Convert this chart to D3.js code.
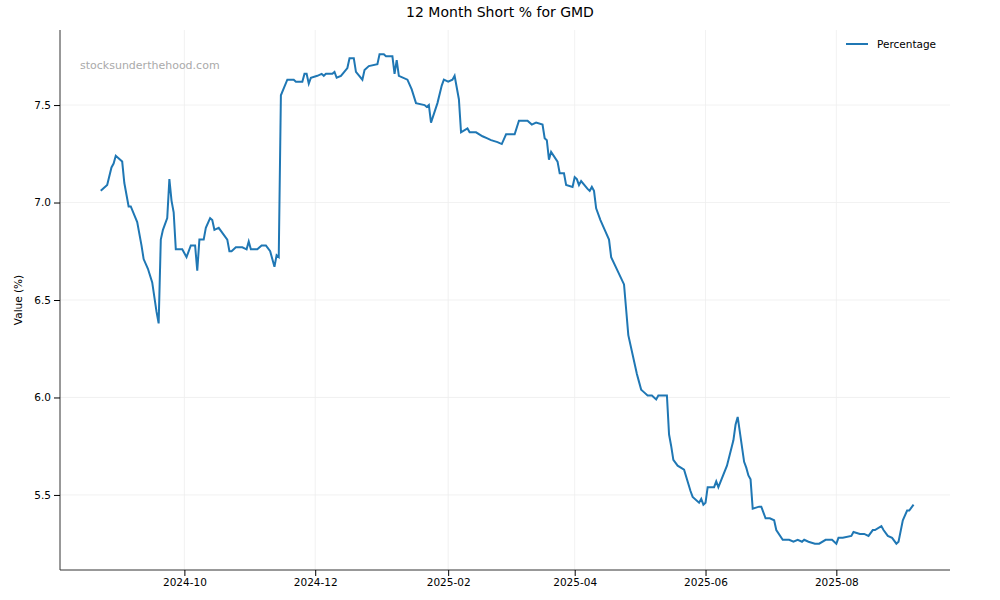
<!DOCTYPE html>
<html>
<head>
<meta charset="utf-8">
<script src="https://cdn.jsdelivr.net/npm/d3@7"></script>
<style>
  body { margin: 0; background: #fff; font-family: "DejaVu Sans", sans-serif; }
</style>
</head>
<body>
<svg id="chart" width="1000" height="600"></svg>
<script>
// short interest readings
const dates = [
  "2024-08-23","2024-08-26","2024-08-28","2024-08-29","2024-08-30","2024-09-02","2024-09-03","2024-09-05","2024-09-06","2024-09-09",
  "2024-09-11","2024-09-12","2024-09-14","2024-09-16","2024-09-18","2024-09-19","2024-09-20","2024-09-21","2024-09-23","2024-09-24",
  "2024-09-25","2024-09-26","2024-09-27","2024-09-30","2024-10-02","2024-10-04","2024-10-06","2024-10-07","2024-10-08","2024-10-10",
  "2024-10-11","2024-10-13","2024-10-14","2024-10-15","2024-10-17","2024-10-21","2024-10-22","2024-10-23","2024-10-25","2024-10-28",
  "2024-10-30","2024-10-31","2024-11-01","2024-11-04","2024-11-06","2024-11-08","2024-11-10","2024-11-12","2024-11-13","2024-11-14",
  "2024-11-15","2024-11-18","2024-11-21","2024-11-22","2024-11-25","2024-11-26","2024-11-27","2024-11-28","2024-11-29","2024-12-02",
  "2024-12-04","2024-12-05","2024-12-06","2024-12-09","2024-12-10","2024-12-11","2024-12-13","2024-12-16","2024-12-17","2024-12-19",
  "2024-12-20","2024-12-23","2024-12-24","2024-12-26","2024-12-30","2024-12-31","2025-01-02","2025-01-03","2025-01-06","2025-01-07",
  "2025-01-08","2025-01-09","2025-01-13","2025-01-15","2025-01-17","2025-01-21","2025-01-22","2025-01-23","2025-01-24","2025-01-27",
  "2025-01-29","2025-01-30","2025-02-01","2025-02-03","2025-02-04","2025-02-06","2025-02-07","2025-02-10","2025-02-11","2025-02-14",
  "2025-02-17","2025-02-19","2025-02-21","2025-02-24","2025-02-26","2025-02-28","2025-03-04","2025-03-06","2025-03-10","2025-03-12",
  "2025-03-14","2025-03-17","2025-03-18","2025-03-19","2025-03-20","2025-03-21","2025-03-24","2025-03-25","2025-03-27","2025-03-28",
  "2025-03-31","2025-04-01","2025-04-02","2025-04-03","2025-04-04","2025-04-07","2025-04-08","2025-04-09","2025-04-10","2025-04-11",
  "2025-04-13","2025-04-15","2025-04-17","2025-04-18","2025-04-24","2025-04-25","2025-04-26","2025-04-30","2025-05-01","2025-05-02",
  "2025-05-03","2025-05-05","2025-05-07","2025-05-09","2025-05-10","2025-05-13","2025-05-14","2025-05-15","2025-05-16","2025-05-17",
  "2025-05-19","2025-05-22","2025-05-25","2025-05-26","2025-05-29","2025-05-30","2025-05-31","2025-06-01","2025-06-02","2025-06-05",
  "2025-06-06","2025-06-07","2025-06-11","2025-06-14","2025-06-15","2025-06-16","2025-06-19","2025-06-20","2025-06-21","2025-06-22",
  "2025-06-23","2025-06-26","2025-06-27","2025-06-29","2025-07-01","2025-07-03","2025-07-04","2025-07-07","2025-07-10","2025-07-12",
  "2025-07-14","2025-07-16","2025-07-17","2025-07-19","2025-07-22","2025-07-24","2025-07-27","2025-07-30","2025-08-01","2025-08-02",
  "2025-08-04","2025-08-08","2025-08-09","2025-08-12","2025-08-14","2025-08-16","2025-08-18","2025-08-19","2025-08-22","2025-08-23",
  "2025-08-25","2025-08-27","2025-08-29","2025-08-30","2025-09-01","2025-09-03","2025-09-04","2025-09-06"
];
const values = [
  7.06,7.09,7.18,7.20,7.24,7.21,7.10,6.98,6.98,6.90,
  6.78,6.71,6.66,6.59,6.44,6.38,6.81,6.86,6.92,7.12,
  7.01,6.95,6.76,6.76,6.72,6.78,6.78,6.65,6.81,6.81,
  6.87,6.92,6.91,6.86,6.87,6.81,6.75,6.75,6.77,6.77,
  6.76,6.80,6.76,6.76,6.78,6.78,6.75,6.67,6.73,6.72,
  7.55,7.63,7.63,7.62,7.62,7.66,7.66,7.61,7.64,7.65,
  7.66,7.65,7.66,7.66,7.67,7.64,7.65,7.69,7.74,7.74,
  7.67,7.63,7.68,7.70,7.71,7.76,7.76,7.75,7.75,7.66,
  7.73,7.65,7.63,7.58,7.51,7.50,7.49,7.50,7.41,7.51,
  7.60,7.63,7.62,7.63,7.65,7.53,7.36,7.38,7.36,7.36,
  7.34,7.33,7.32,7.31,7.30,7.35,7.35,7.42,7.42,7.40,
  7.41,7.40,7.33,7.32,7.22,7.26,7.21,7.15,7.15,7.09,
  7.08,7.13,7.12,7.09,7.11,7.07,7.06,7.08,7.06,6.97,
  6.91,6.86,6.81,6.72,6.58,6.45,6.32,6.12,6.08,6.04,
  6.03,6.01,6.01,5.99,6.01,6.01,6.01,5.81,5.75,5.68,
  5.65,5.63,5.52,5.49,5.46,5.48,5.45,5.46,5.54,5.54,
  5.57,5.54,5.65,5.78,5.86,5.90,5.67,5.64,5.60,5.58,
  5.43,5.44,5.44,5.38,5.38,5.37,5.32,5.27,5.27,5.26,
  5.27,5.26,5.27,5.26,5.25,5.25,5.27,5.27,5.25,5.28,
  5.28,5.29,5.31,5.30,5.30,5.29,5.32,5.32,5.34,5.32,
  5.29,5.28,5.25,5.26,5.37,5.42,5.42,5.45
];
const yTicks = [5.5, 6.0, 6.5, 7.0, 7.5];
const xTickDates = ["2024-10-01","2024-12-01","2025-02-01","2025-04-01","2025-06-01","2025-08-01"];

const parse = d3.utcParse("%Y-%m-%d");
const data = dates.map((d, i) => ({ date: parse(d), value: values[i] }));

const margin = { top: 30, right: 50, bottom: 30, left: 60 };
const width = 1000, height = 600;
const svg = d3.select("#chart");

const x = d3.scaleUtc()
  .domain([parse("2024-08-04"), parse("2025-09-23")])
  .range([margin.left, width - margin.right]);
const y = d3.scaleLinear()
  .domain([5.115, 7.885])
  .range([height - margin.bottom, margin.top]);

// grid
svg.append("g")
  .selectAll("line.v")
  .data(xTickDates.map(parse))
  .join("line")
  .attr("x1", d => x(d)).attr("x2", d => x(d))
  .attr("y1", margin.top).attr("y2", height - margin.bottom)
  .attr("stroke", "#eee").attr("stroke-width", 0.8);
svg.append("g")
  .selectAll("line.h")
  .data(yTicks)
  .join("line")
  .attr("x1", margin.left).attr("x2", width - margin.right)
  .attr("y1", d => y(d)).attr("y2", d => y(d))
  .attr("stroke", "#eee").attr("stroke-width", 0.8);

// axes
const xAxis = svg.append("g")
  .attr("transform", `translate(0,${height - margin.bottom})`)
  .call(d3.axisBottom(x).tickValues(xTickDates.map(parse)).tickFormat(d3.utcFormat("%Y-%m")).tickSizeOuter(0));
const yAxis = svg.append("g")
  .attr("transform", `translate(${margin.left},0)`)
  .call(d3.axisLeft(y).tickValues(yTicks).tickFormat(d3.format(".1f")).tickSizeOuter(0));
[xAxis, yAxis].forEach(a => {
  a.selectAll("text").attr("font-size", 10.5).attr("fill", "#000").attr("font-family", "DejaVu Sans");
  a.select(".domain").attr("stroke", "#333");
});
yAxis.select(".domain").attr("d", `M0,${margin.top}V${height - margin.bottom}`);
xAxis.select(".domain").attr("d", `M${margin.left},0H${width - margin.right}`);

svg.append("text")
  .attr("transform", `translate(22,${(margin.top + height - margin.bottom) / 2}) rotate(-90)`)
  .attr("text-anchor", "middle").attr("font-size", 10.5).text("Value (%)");

svg.append("text")
  .attr("x", width / 2).attr("y", 17).attr("text-anchor", "middle")
  .attr("font-size", 14).text("12 Month Short % for GMD");

svg.append("text")
  .attr("x", 80).attr("y", 69).attr("font-size", 11).attr("fill", "#aaa")
  .text("stocksunderthehood.com");

// line
svg.append("path")
  .datum(data)
  .attr("fill", "none")
  .attr("stroke", "#1f77b4")
  .attr("stroke-width", 2)
  .attr("d", d3.line().x(d => x(d.date)).y(d => y(d.value)));

// legend
svg.append("line").attr("x1", 846).attr("x2", 868).attr("y1", 44).attr("y2", 44)
  .attr("stroke", "#1f77b4").attr("stroke-width", 2);
svg.append("text").attr("x", 877).attr("y", 48).attr("font-size", 10.5).text("Percentage");
</script>
</body>
</html>
